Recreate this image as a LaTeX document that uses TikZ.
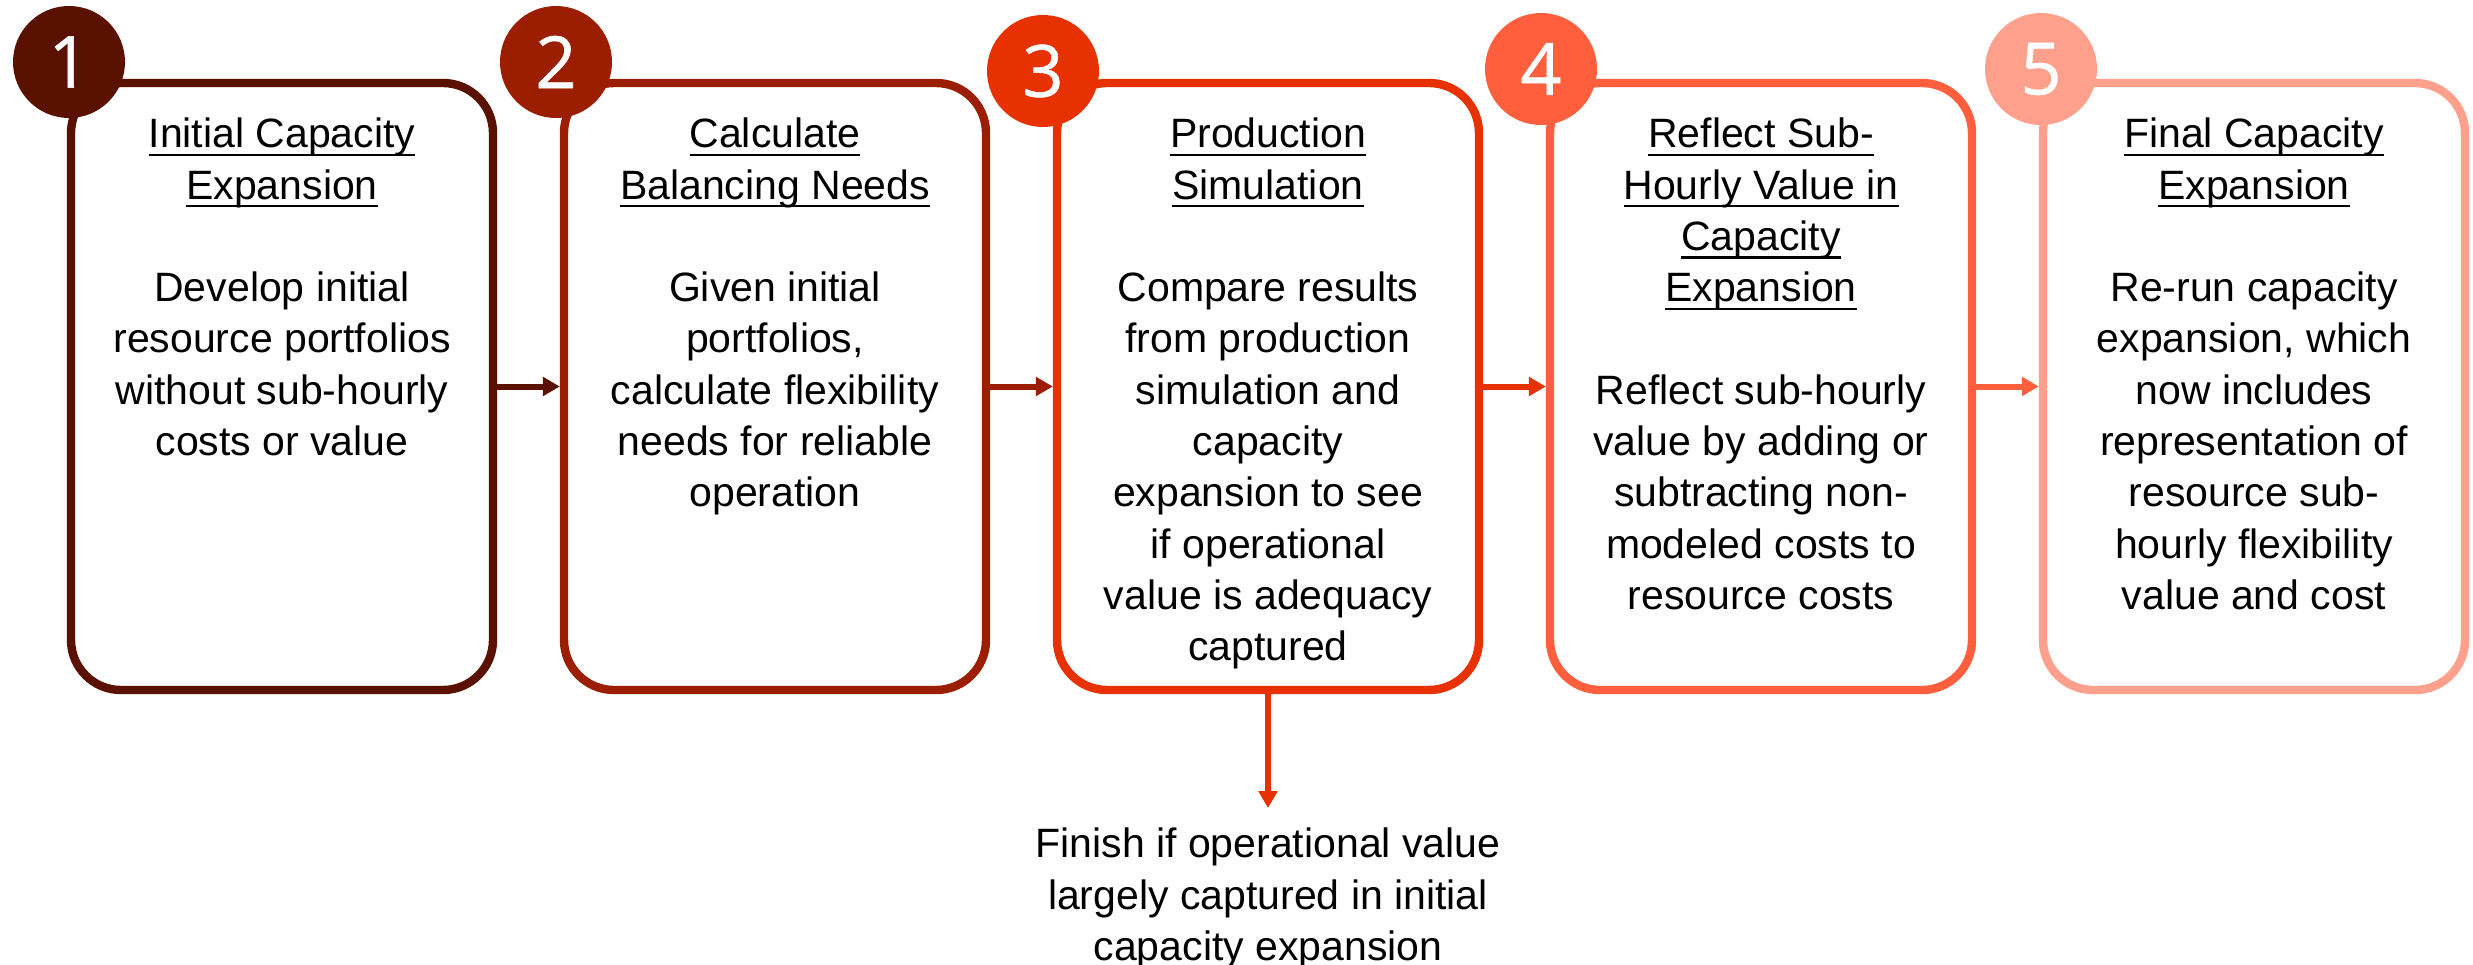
\documentclass[tikz,border=0pt]{standalone}
\usepackage{fontspec}
\setmainfont{Liberation Sans}
\newfontfamily\numfont[FakeBold=0.8]{Open Sans}
\usetikzlibrary{arrows.meta}
\definecolor{cA}{RGB}{90,17,0}
\definecolor{cB}{RGB}{156,30,0}
\definecolor{cC}{RGB}{232,49,0}
\definecolor{cD}{RGB}{255,95,60}
\definecolor{cE}{RGB}{255,160,140}
\newcommand\ulx[1]{\setbox0\hbox{#1}\rlap{\rule[-2.05pt]{\wd0}{0.55pt}}\box0}
\tikzset{
  stepbox/.style={draw, line width=2.1pt, rounded corners=12.5pt, minimum width=105.5pt, minimum height=151.75pt, inner sep=0pt},
  num/.style={circle, inner sep=0pt, minimum size=28pt, text=white, font=\numfont\fontsize{18pt}{20pt}\selectfont},
  txt/.style={align=center, inner sep=0pt, anchor=north, font=\fontsize{10.25pt}{12.825pt}\selectfont},
  link/.style={line width=1.5pt, -{Triangle[length=4.25pt,width=4.6pt]}}
}
\begin{document}
\begin{tikzpicture}[x=0.25pt,y=-0.25pt]
\useasboundingbox (0,0) rectangle (2473,964);
% boxes
\node[stepbox, draw=cA] (b1) at (282,386.5) {};
\node[stepbox, draw=cB] (b2) at (775,386.5) {};
\node[stepbox, draw=cC] (b3) at (1268,386.5) {};
\node[stepbox, draw=cD] (b4) at (1761,386.5) {};
\node[stepbox, draw=cE] (b5) at (2254,386.5) {};
% number circles
\node[num, fill=cA] (n1) at (69,62) {1};
\node[num, fill=cB] (n2) at (556,62) {2};
\node[num, fill=cC] (n3) at (1043,71) {3};
\node[num, fill=cD] (n4) at (1541,69) {4};
\node[num, fill=cE] (n5) at (2041,69) {5};
% texts
\node[txt] (t1) at (282,111) {\strut\ulx{Initial Capacity}\\\ulx{Expansion}\\[12.825pt]
Develop initial\\resource portfolios\\without sub-hourly\\costs or value};
\node[txt] (t2) at (775,111) {\strut\ulx{Calculate}\\\ulx{Balancing Needs}\\[12.825pt]
Given initial\\portfolios,\\calculate flexibility\\needs for reliable\\operation};
\node[txt] (t3) at (1268,111) {\strut\ulx{Production}\\\ulx{Simulation}\\[12.825pt]
Compare results\\from production\\simulation and\\capacity\\expansion to see\\if operational\\value is adequacy\\captured};
\node[txt] (t4) at (1761,111) {\strut\ulx{Reflect Sub-}\\\ulx{Hourly Value in}\\\ulx{Capacity}\\\ulx{Expansion}\\[12.825pt]
Reflect sub-hourly\\value by adding or\\subtracting non-\\modeled costs to\\resource costs};
\node[txt] (t5) at (2254,111) {\strut\ulx{Final Capacity}\\\ulx{Expansion}\\[12.825pt]
Re-run capacity\\expansion, which\\now includes\\representation of\\resource sub-\\hourly flexibility\\value and cost};
\node[txt] (fin) at (1268,821) {\strut Finish if operational value\\largely captured in initial\\capacity expansion};
% connectors
\draw[link, cA] (b1.east) -- (b2.west);
\draw[link, cB] (b2.east) -- (b3.west);
\draw[link, cC] (b3.east) -- (b4.west);
\draw[link, cD] (b4.east) -- (b5.west);
\coordinate (finend) at (1268,808);
\draw[link, cC] (b3.south) -- (finend);
\end{tikzpicture}
\end{document}
